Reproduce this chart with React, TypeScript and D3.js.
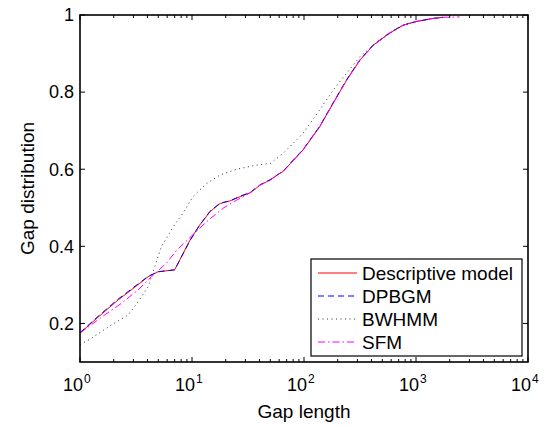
import React from "react";
import * as d3 from "d3";

// ---- data ----
const descX = [1, 1.445, 2.19, 2.87, 4.05, 4.97, 7.0, 9.6, 11.7, 14.5, 17.8, 21.9, 26.9, 33.1, 40.7, 50, 59, 65, 98, 138, 182, 240, 316, 417, 550, 660, 776, 1000, 1413, 1740];
const descY = [0.175, 0.216, 0.261, 0.287, 0.321, 0.334, 0.339, 0.416, 0.455, 0.49, 0.511, 0.518, 0.529, 0.539, 0.559, 0.572, 0.587, 0.594, 0.65, 0.71, 0.771, 0.831, 0.883, 0.922, 0.948, 0.963, 0.974, 0.983, 0.991, 0.994];

const dpbgmX = [1, 1.445, 2.19, 2.87, 4.05, 4.97, 7.0, 9.6, 11.7, 14.5, 17.8, 21.9, 26.9, 33.1, 40.7, 50, 59, 65, 98, 138, 182, 240, 316, 417, 550, 660, 776, 1000, 1413, 1740];
const dpbgmY = [0.176, 0.218, 0.263, 0.289, 0.322, 0.334, 0.339, 0.415, 0.455, 0.491, 0.512, 0.518, 0.53, 0.54, 0.56, 0.573, 0.587, 0.595, 0.651, 0.711, 0.772, 0.832, 0.884, 0.923, 0.949, 0.963, 0.974, 0.983, 0.991, 0.994];

const bwhmmX = [1, 1.26, 1.9, 2.69, 3.3, 4.05, 4.65, 5.32, 6.3, 6.8, 8.3, 10.2, 13.5, 17.8, 25.1, 38, 50, 65, 98, 138, 182, 240, 316, 389, 550, 776, 1000, 1413, 1740];
const bwhmmY = [0.145, 0.161, 0.196, 0.222, 0.256, 0.295, 0.347, 0.399, 0.434, 0.451, 0.486, 0.529, 0.563, 0.585, 0.6, 0.611, 0.615, 0.641, 0.693, 0.754, 0.805, 0.849, 0.892, 0.914, 0.948, 0.974, 0.983, 0.991, 0.994];

const sfmX = [1, 1.66, 2.34, 3.3, 4.34, 5.9, 7.3, 13.5, 19, 25.1, 33.1, 40.7, 50, 59, 65, 98, 138, 182, 240, 316, 417, 550, 660, 776, 1000, 1413, 1740, 2450];
const sfmY = [0.175, 0.222, 0.252, 0.287, 0.321, 0.356, 0.39, 0.464, 0.499, 0.52, 0.539, 0.559, 0.572, 0.587, 0.594, 0.65, 0.71, 0.771, 0.831, 0.883, 0.922, 0.948, 0.963, 0.974, 0.983, 0.991, 0.994, 0.995];

const yTicks = [0.2, 0.4, 0.6, 0.8, 1];
const yTickLabels = ["0.2", "0.4", "0.6", "0.8", "1"];
const xDecades = [0, 1, 2, 3, 4];
const legendLabels = ["Descriptive model", "DPBGM", "BWHMM", "SFM"];

const W = 550, H = 426;
const L = 80, R = 528, T = 15, B = 362;
const FONT = "'Liberation Sans', Arial, Helvetica, sans-serif";

export default function App() {
  const xs = d3.scaleLog().domain([1, 1e4]).range([L, R]);
  const ys = d3.scaleLinear().domain([0.1, 1]).range([B, T]);
  const line = d3
    .line<[number, number]>()
    .x((d) => xs(d[0]))
    .y((d) => ys(d[1]))
    .curve(d3.curveLinear);
  const mk = (xa: number[], ya: number[]) => line(xa.map((x, i) => [x, ya[i]] as [number, number])) || "";

  const series = [
    { name: legendLabels[0], d: mk(descX, descY), stroke: "#ff0000", dash: "", w: 1 },
    { name: legendLabels[1], d: mk(dpbgmX, dpbgmY), stroke: "#0000ff", dash: "6,4", w: 1 },
    { name: legendLabels[2], d: mk(bwhmmX, bwhmmY), stroke: "#333", dash: "1,3.5", w: 1 },
    { name: legendLabels[3], d: mk(sfmX, sfmY), stroke: "#ff00ff", dash: "7,3,1.5,3", w: 1 },
  ];

  const minor: number[] = [];
  for (let k = 0; k < 4; k++) for (let m = 2; m <= 9; m++) minor.push(m * Math.pow(10, k));

  const lx = 311, ly = 259, lw = 211, lh = 97;
  const rowY = [273, 296, 319, 342];

  return (
    <svg width={W} height={H} style={{ position: "absolute", left: 0, top: 0, background: "#fff" }} fontFamily={FONT}>
      <rect x={0} y={0} width={W} height={H} fill="#fff" />
      <defs>
        <clipPath id="plotclip">
          <rect x={L} y={T} width={R - L} height={B - T} />
        </clipPath>
      </defs>
      <g clipPath="url(#plotclip)">
        {series.map((s) => (
          <path key={s.name} d={s.d} fill="none" stroke={s.stroke} strokeWidth={s.w} strokeLinejoin="round" strokeDasharray={s.dash || undefined} />
        ))}
      </g>
      {/* ticks */}
      <g stroke="#000" strokeWidth={1}>
        {xDecades.map((k) => {
          const x = xs(Math.pow(10, k));
          return (
            <g key={"xd" + k}>
              <line x1={x} x2={x} y1={B} y2={B - 5} />
              <line x1={x} x2={x} y1={T} y2={T + 5} />
            </g>
          );
        })}
        {minor.map((v) => {
          const x = xs(v);
          return (
            <g key={"xm" + v}>
              <line x1={x} x2={x} y1={B} y2={B - 3} />
              <line x1={x} x2={x} y1={T} y2={T + 3} />
            </g>
          );
        })}
        {yTicks.map((v) => {
          const y = ys(v);
          return (
            <g key={"yt" + v}>
              <line x1={L} x2={L + 5} y1={y} y2={y} />
              <line x1={R} x2={R - 5} y1={y} y2={y} />
            </g>
          );
        })}
      </g>
      <rect x={L} y={T} width={R - L} height={B - T} fill="none" stroke="#000" strokeWidth={1.6} />
      {/* y tick labels */}
      {yTicks.map((v, i) => (
        <text key={"yl" + v} x={L - 6} y={ys(v)} dy="0.35em" textAnchor="end" fontSize={18} fill="#000">
          {yTickLabels[i]}
        </text>
      ))}
      {/* x tick labels */}
      {xDecades.map((k) => {
        const x = xs(Math.pow(10, k));
        return (
          <g key={"xl" + k}>
            <text x={x + 3} y={391} textAnchor="end" fontSize={18} fill="#000">
              10
            </text>
            <text x={x + 4} y={383} textAnchor="start" fontSize={12} fill="#000">
              {String(k)}
            </text>
          </g>
        );
      })}
      {/* axis labels */}
      <text x={(L + R) / 2} y={418} textAnchor="middle" fontSize={19} fill="#000">
        Gap length
      </text>
      <text transform={`translate(34, ${(T + B) / 2}) rotate(-90)`} textAnchor="middle" fontSize={19} fill="#000">
        Gap distribution
      </text>
      {/* legend */}
      <rect x={lx} y={ly} width={lw} height={lh} fill="#fff" stroke="#000" strokeWidth={1.2} />
      {series.map((s, i) => (
        <g key={"lg" + i}>
          <line x1={318} x2={357} y1={rowY[i]} y2={rowY[i]} stroke={s.stroke} strokeWidth={s.w} strokeDasharray={s.dash || undefined} />
          <text x={362} y={rowY[i]} dy="0.35em" fontSize={19} fill="#000">
            {s.name}
          </text>
        </g>
      ))}
    </svg>
  );
}
